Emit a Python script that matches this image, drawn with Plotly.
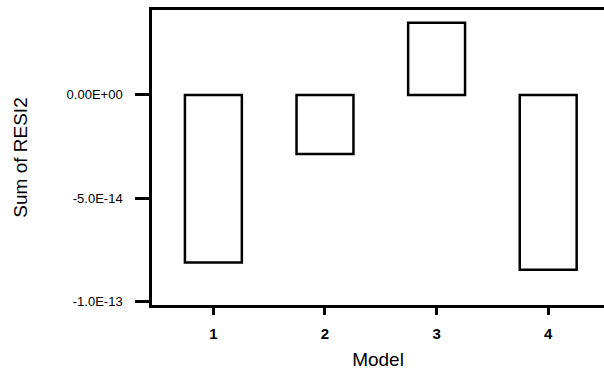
import plotly.graph_objects as go

models = [1, 2, 3, 4]
sum_resi2 = [-8.1e-14, -2.85e-14, 3.48e-14, -8.45e-14]
ytick_vals = [0.0, -5.0e-14, -1.0e-13]
ytick_text = ["0.00E+00", "-5.0E-14", "-1.0E-13"]
xtick_text = ["1", "2", "3", "4"]

font_fam = "Liberation Sans, Arial, sans-serif"

fig = go.Figure(go.Bar(
    x=models, y=sum_resi2, width=0.51,
    marker=dict(color="white", line=dict(color="black", width=2.5)),
))

fig.update_layout(
    width=604, height=371,
    margin=dict(l=152, r=0, t=10, b=66),
    paper_bgcolor="white", plot_bgcolor="white",
    showlegend=False,
    font=dict(family=font_fam, color="black"),
    xaxis=dict(
        range=[0.45, 4.5], tickvals=models, ticktext=xtick_text,
        showgrid=False, zeroline=False,
        showline=True, linecolor="black", linewidth=2.5, mirror=True,
        ticks="outside", ticklen=7, tickwidth=2.5, tickcolor="black",
        ticklabelstandoff=6,
        tickfont=dict(size=15, weight="bold"),
        title=dict(text="Model", font=dict(size=19), standoff=12),
    ),
    yaxis=dict(
        range=[-1.015e-13, 4.1e-14], tickvals=ytick_vals, ticktext=ytick_text,
        showgrid=False, zeroline=False,
        showline=True, linecolor="black", linewidth=2.5,
        ticks="outside", ticklen=14, tickwidth=2.5, tickcolor="black",
        ticklabelstandoff=10,
        tickfont=dict(size=13),
        title=dict(text="Sum of RESI2", font=dict(size=19), standoff=34),
    ),
)

fig.write_html(
    "out.html",
    config={"displayModeBar": False},
    post_script="document.body.style.margin='0';document.body.style.overflow='hidden';",
)
